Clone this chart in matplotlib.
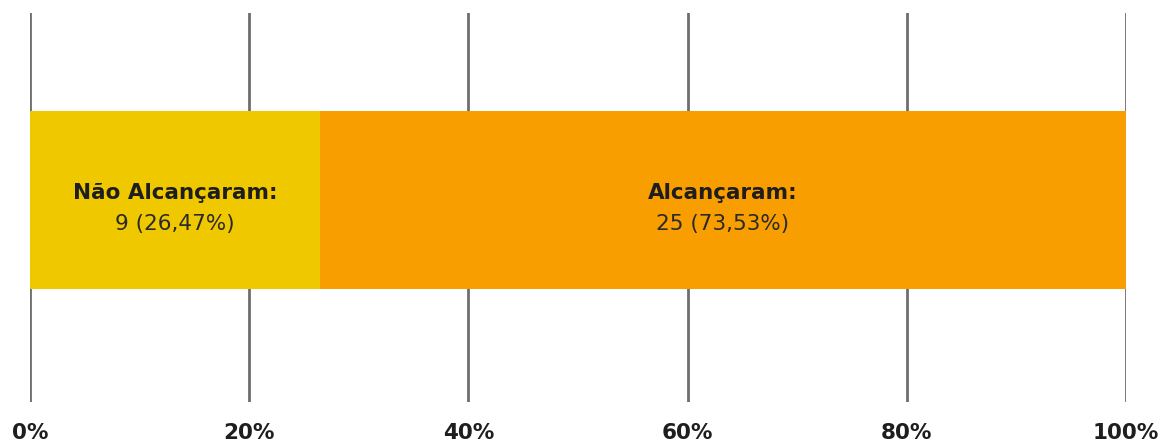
import matplotlib.pyplot as plt

categories = ['Não Alcançaram', 'Alcançaram']
counts = [9, 25]
percents = [26.47, 73.53]
colors = ['#F0C800', '#F99E00']
ticks = [0, 20, 40, 60, 80, 100]
tick_labels = ['0%', '20%', '40%', '60%', '80%', '100%']

plt.rcParams['font.family'] = ['DejaVu Sans']

fig = plt.figure(figsize=(11.61, 4.43), dpi=100)
ax = fig.add_axes([30 / 1161, 41 / 443, 1096 / 1161, 389 / 443])

left = 0
for cat, n, p, c in zip(categories, counts, percents, colors):
    ax.barh(0, p, left=left, height=1.0, color=c, zorder=2)
    xc = left + p / 2
    ax.text(xc, -0.02, cat + ':', ha='center', va='bottom', fontsize=15.5,
            fontweight='bold', color='#1e1e1e', zorder=3)
    ax.text(xc, -0.08, f'{n} ({p:.2f}%)'.replace('.', ','), ha='center',
            va='top', fontsize=15.5, color='#2a2a2a', zorder=3)
    left += p

for t in ticks:
    ax.axvline(t, color='#6e6e6e', lw=2, zorder=1)

ax.set_xlim(0, 100)
ax.set_ylim(-1.135, 1.05)
ax.set_xticks(ticks)
ax.set_xticklabels(tick_labels, fontsize=15.5, fontweight='bold', color='#1e1e1e')
ax.tick_params(axis='x', length=0, pad=15)
ax.set_yticks([])
for s in ax.spines.values():
    s.set_visible(False)

fig.savefig('out.png', dpi=100)
